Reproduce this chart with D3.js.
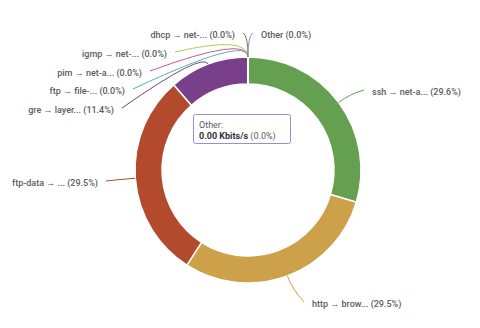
<!DOCTYPE html>
<html>
<head>
<meta charset="utf-8">
<script src="https://cdn.jsdelivr.net/npm/d3@7"></script>
<style>
  html, body { margin: 0; padding: 0; background: #fff; }
  svg { display: block; font-family: Roboto, "Noto Sans", sans-serif; }
</style>
</head>
<body>
<svg id="chart" width="480" height="328"></svg>
<script>
const categories = ["ssh", "http", "ftp-data", "gre", "ftp", "pim", "igmp", "dhcp", "Other"];
const shortLabels = [
  "ssh \u2192 net-a...", "http \u2192 brow...", "ftp-data \u2192 ...", "gre \u2192 layer...",
  "ftp \u2192 file-...", "pim \u2192 net-a...", "igmp \u2192 net-...", "dhcp \u2192 net-...", "Other",
];
// share of traffic, percent
const values = [29.6, 29.5, 29.5, 11.4, 0.004, 0.004, 0.004, 0.004, 0.002];
const percentLabels = ["29.6%", "29.5%", "29.5%", "11.4%", "0.0%", "0.0%", "0.0%", "0.0%", "0.0%"];
const colors = ["#64a04f", "#cca14a", "#b44a2c", "#7a3f8a", "#4fb6aa", "#d3568a", "#b9cc52", "#8c7445", "#8193e0"];

// where each label's leader line ends, relative to the pie centre
const labelEnds = [
  [116, -80], [56, 132], [-142, 11], [-126, -62],
  [-115, -81], [-98, -99], [-73, -118], [-5, -137], [5, -137],
];

const width = 480;
const height = 328;
const cx = 248;
const cy = 170;
const outer = 113;
const inner = 86;

const svg = d3.select("#chart");
const g = svg.append("g").attr("transform", `translate(${cx},${cy})`);

const pie = d3.pie().sort(null).value((d) => d.value);
const rows = categories.map((c, i) => ({ name: c, value: values[i], i }));
const arcs = pie(rows);
const arc = d3.arc().innerRadius(inner).outerRadius(outer);

g.selectAll("path.slice")
  .data(arcs)
  .join("path")
  .attr("class", "slice")
  .attr("d", arc)
  .attr("fill", (d) => colors[d.data.i])
  .attr("stroke", "#fff")
  .attr("stroke-width", 1.5);

// leader lines
const anchorArc = d3.arc().innerRadius(outer).outerRadius(outer);
g.selectAll("path.leader")
  .data(arcs)
  .join("path")
  .attr("class", "leader")
  .attr("fill", "none")
  .attr("stroke", (d) => colors[d.data.i])
  .attr("stroke-width", 1)
  .attr("d", (d) => {
    const mid = (d.startAngle + d.endAngle) / 2;
    const [ax, ay] = anchorArc.centroid(d);
    const tiny = d.data.value < 1;
    const reach = tiny ? 22 : 14;
    const kx = ax + Math.sin(mid) * reach;
    const ky = ay - Math.cos(mid) * reach;
    const [ex, ey] = labelEnds[d.data.i];
    return `M${ax},${ay}Q${kx},${ky} ${ex},${ey}`;
  });

// labels
g.selectAll("text.label")
  .data(arcs)
  .join("text")
  .attr("class", "label")
  .attr("x", (d) => {
    const [ex] = labelEnds[d.data.i];
    return ex >= 0 ? ex + 8 : ex - 8;
  })
  .attr("y", (d) => labelEnds[d.data.i][1] + 2)
  .attr("dy", "0.32em")
  .attr("text-anchor", (d) => (labelEnds[d.data.i][0] >= 0 ? "start" : "end"))
  .attr("font-size", 9)
  .attr("font-weight", 500)
  .attr("fill", "#5c5c5c")
  .text((d) => `${shortLabels[d.data.i]} (${percentLabels[d.data.i]})`);

// tooltip
const tip = svg.append("g").attr("transform", "translate(193,114)");
tip.append("rect")
  .attr("x", 0.5)
  .attr("y", 0.5)
  .attr("width", 97)
  .attr("height", 29)
  .attr("rx", 2)
  .attr("fill", "#fff")
  .attr("stroke", "#8797d6")
  .attr("stroke-width", 1);
tip.append("text")
  .attr("x", 6)
  .attr("y", 14)
  .attr("font-size", 9)
  .attr("fill", "#5c5c5c")
  .text("Other:");
const line2 = tip.append("text")
  .attr("x", 6)
  .attr("y", 25)
  .attr("font-size", 9)
  .attr("fill", "#5c5c5c");
line2.append("tspan").attr("font-weight", 700).attr("fill", "#333").text("0.00 Kbits/s");
line2.append("tspan").text(" (0.0%)");
</script>
</body>
</html>
